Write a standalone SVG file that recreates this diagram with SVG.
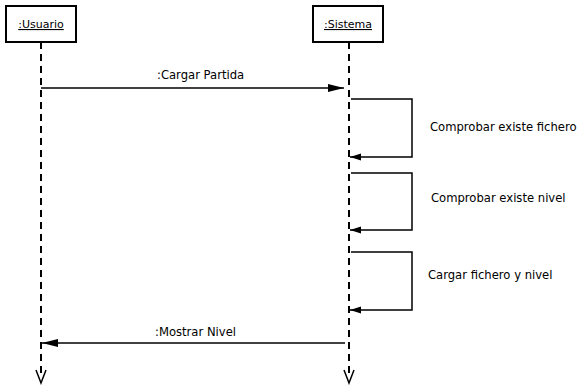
<svg xmlns="http://www.w3.org/2000/svg" width="577" height="385" viewBox="0 0 577 385">
<defs>
<style>
text{font-family:"DejaVu Sans",sans-serif;font-size:11.6px;fill:#000}
.lbl{font-size:11px}
.box{fill:#fff;stroke:#000;stroke-width:2}
.life{stroke:#000;stroke-width:2;stroke-dasharray:7,5;fill:none}
.msg{stroke:#000;stroke-width:1.5;fill:none}
.end{stroke:#000;stroke-width:1.5;fill:none}
</style>
<marker id="fill" markerWidth="16" markerHeight="10" refX="16" refY="5" orient="auto" markerUnits="userSpaceOnUse">
<path d="M0,1 L16,5 L0,9 Z" fill="#000"/>
</marker>
<marker id="small" markerWidth="11" markerHeight="9" refX="11" refY="4.5" orient="auto" markerUnits="userSpaceOnUse">
<path d="M0,1 L11,4.5 L0,8 Z" fill="#000"/>
</marker>
</defs>
<g id="usuario">
<rect class="box" x="6" y="6" width="70" height="36"/>
<text class="lbl" x="41" y="28" text-anchor="middle" text-decoration="underline">:Usuario</text>
<line class="life" x1="41" y1="42" x2="41" y2="378"/>
<polyline class="end" points="36,370 41,383 46,370"/>
</g>
<g id="sistema">
<rect class="box" x="313" y="6" width="70" height="36"/>
<text class="lbl" x="348" y="28" text-anchor="middle" text-decoration="underline">:Sistema</text>
<line class="life" x1="349" y1="42" x2="349" y2="378"/>
<polyline class="end" points="344,370 349,383 354,370"/>
</g>
<g id="connectors">
<line class="msg" x1="41" y1="88" x2="344" y2="88" marker-end="url(#fill)"/>
<text x="157" y="79">:Cargar Partida</text>
<polyline class="msg" points="351,99 412,99 412,157 350,157" marker-end="url(#small)"/>
<text x="430" y="131">Comprobar existe fichero</text>
<polyline class="msg" points="351,173 412,173 412,230 350,230" marker-end="url(#small)"/>
<text x="431" y="202">Comprobar existe nivel</text>
<polyline class="msg" points="351,252 412,252 412,310 350,310" marker-end="url(#small)"/>
<text x="428" y="279">Cargar fichero y nivel</text>
<line class="msg" x1="345" y1="343" x2="42" y2="343" marker-end="url(#fill)"/>
<text x="155" y="336">:Mostrar Nivel</text>
</g>
</svg>
